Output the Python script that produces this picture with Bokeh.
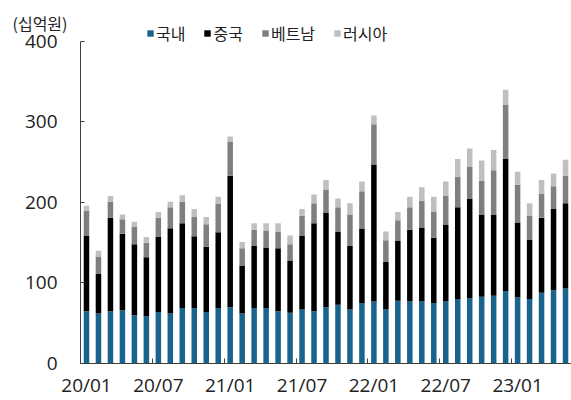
from bokeh.plotting import figure
from bokeh.models import (ColumnDataSource, Range1d, FixedTicker, Legend, LegendItem, Title)
from bokeh.embed import file_html
from bokeh.resources import INLINE

months = ["20/01", "20/02", "20/03", "20/04", "20/05", "20/06", "20/07", "20/08", "20/09", "20/10", "20/11", "20/12",
          "21/01", "21/02", "21/03", "21/04", "21/05", "21/06", "21/07", "21/08", "21/09", "21/10", "21/11", "21/12",
          "22/01", "22/02", "22/03", "22/04", "22/05", "22/06", "22/07", "22/08", "22/09", "22/10", "22/11", "22/12",
          "23/01", "23/02", "23/03", "23/04", "23/05"]
domestic = [65, 62, 65, 66, 60, 59, 64, 62, 69, 69, 64, 69, 70, 62, 69, 69, 65, 63, 67, 65, 70, 73, 67, 75,
            77, 67, 78, 77, 77, 75, 77, 80, 81, 83, 84, 90, 82, 80, 88, 91, 93]
china = [94, 49, 116, 95, 88, 73, 93, 106, 105, 89, 81, 94, 163, 59, 77, 75, 78, 65, 92, 109, 117, 91, 79, 92,
         170, 59, 74, 89, 92, 81, 95, 114, 124, 102, 101, 164, 93, 74, 93, 101, 106]
vietnam = [31, 22, 20, 18, 22, 18, 24, 26, 27, 24, 28, 35, 42, 22, 20, 21, 21, 20, 24, 25, 29, 30, 39, 47,
           50, 27, 26, 28, 33, 32, 36, 38, 39, 42, 55, 67, 47, 29, 30, 28, 34]
russia = [6, 7, 7, 6, 6, 7, 7, 7, 8, 10, 9, 9, 7, 8, 8, 9, 10, 11, 9, 11, 12, 11, 14, 12,
          11, 11, 10, 13, 17, 19, 18, 22, 23, 25, 25, 19, 16, 16, 17, 16, 20]
series = ["국내", "중국", "베트남", "러시아"]
keys = ["domestic", "china", "vietnam", "russia"]
colors = ["#18648C", "#000000", "#7F7F7F", "#BFBFBF"]
tick_labels = ["20/01", "20/07", "21/01", "21/07", "22/01", "22/07", "23/01"]
y_ticks = [0, 100, 200, 300, 400]
unit = "(십억원)"

idx = list(range(len(months)))
src = ColumnDataSource(dict(x=idx, domestic=domestic, china=china, vietnam=vietnam, russia=russia))

label_font = "Open Sans"
kr_font = "Noto Sans CJK KR"
text_col = "#222222"
axis_col = "#404040"

W, H = 571, 400
TOP, BOTTOM, LEFT = 18, 35, 80
Y400_PX = 41          # screen row of the top tick
frame_h = H - TOP - BOTTOM
frame_bottom = H - BOTTOM
y_max = max(y_ticks)
y_top = y_max * frame_h / (frame_bottom - Y400_PX)

p = figure(width=W, height=H, x_range=Range1d(-0.5, len(months) - 0.5), y_range=Range1d(0, y_top),
           output_backend="svg", toolbar_location=None, title=None,
           min_border_left=LEFT, min_border_right=0, min_border_top=TOP, min_border_bottom=BOTTOM)
p.outline_line_color = None
p.xgrid.visible = False
p.ygrid.visible = False

rs = p.vbar_stack(keys, x="x", width=0.46, color=colors, line_color=None, source=src)

tick_pos = [months.index(t) for t in tick_labels]
xt = FixedTicker(ticks=tick_pos, minor_ticks=[i - 0.5 for i in range(6, len(months), 6)])
p.xaxis.ticker = xt
p.xaxis.major_label_overrides = {i: months[i] for i in tick_pos}
p.xaxis.major_tick_in = 0
p.xaxis.major_tick_out = 0
p.xaxis.minor_tick_in = 5
p.xaxis.minor_tick_out = 0
p.xaxis.minor_tick_line_color = axis_col
p.xaxis.axis_line_color = axis_col
p.xaxis.major_label_text_font = label_font
p.xaxis.major_label_text_font_size = "19px"
p.xaxis.major_label_text_color = text_col
p.xaxis.major_label_standoff = 8

p.yaxis.ticker = FixedTicker(ticks=y_ticks, minor_ticks=[])
p.yaxis.bounds = (0, y_max)
p.yaxis.major_tick_in = 4
p.yaxis.major_tick_out = 0
p.yaxis.major_tick_line_color = axis_col
p.yaxis.axis_line_color = axis_col
p.yaxis.major_label_text_font = label_font
p.yaxis.major_label_text_font_size = "19px"
p.yaxis.major_label_text_color = text_col
p.yaxis.major_label_standoff = 23

legend = Legend(items=[LegendItem(label=s, renderers=[r]) for s, r in zip(series, rs)],
                orientation="horizontal", location=(66, frame_bottom - 47),
                glyph_width=8, glyph_height=8, label_standoff=2, spacing=18,
                padding=0, margin=0, label_height=16,
                border_line_color=None, background_fill_alpha=0,
                label_text_font=kr_font, label_text_font_size="16px", label_text_color=text_col)
p.add_layout(legend, "center")

p.add_layout(Title(text=unit, align="left", offset=-(LEFT - 12), standoff=-33, text_font=kr_font,
                   text_font_size="16px", text_font_style="normal", text_color=text_col), "above")

open("out.html", "w").write(file_html(p, INLINE))
